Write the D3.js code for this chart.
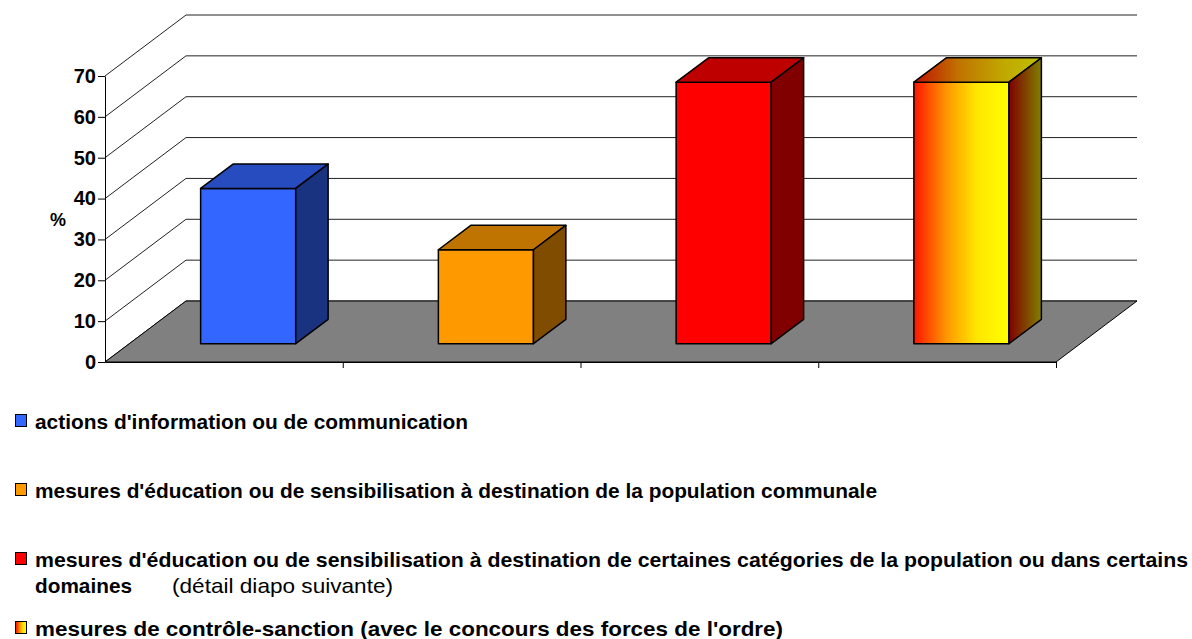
<!DOCTYPE html>
<html>
<head>
<meta charset="utf-8">
<script src="https://cdn.jsdelivr.net/npm/d3@7"></script>
<style>
    body { margin: 0; background: #fff; }
    text { font-family: Arial, "Liberation Sans", sans-serif; }
</style>
</head>
<body>
<div id="chart"></div>
<script>
// Data
const categories = [
    "actions d'information ou de communication",
    "mesures d'éducation ou de sensibilisation à destination de la population communale",
    "mesures d'éducation ou de sensibilisation à destination de certaines catégories de la population ou dans certains domaines",
    "mesures de contrôle-sanction (avec le concours des forces de l'ordre)"
];
const values = [38, 23, 64, 64];
const yTicks = [0, 10, 20, 30, 40, 50, 60, 70];
const yLabel = "%";
const legendNote = "(détail diapo suivante)";

// Canvas Size
const width = 1192, height = 639;
const plot = { left: 105, right: 1056, bottom: 362, top: 76 };
const depthX = 81, depthY = 61;      // floor depth offset
const barFront = 0.3, barBack = 0.7;  // bar depth inside the floor

const svg = d3.select("#chart")
    .append("svg")
    .attr("width", width)
    .attr("height", height);

// Define Scales
const xScale = d3.scaleBand().domain(categories).range([plot.left, plot.right])
    .paddingInner(0.6).paddingOuter(0.3);
const yScale = d3.scaleLinear().domain([0, 70]).range([plot.bottom, plot.top]);
const xEdge = d3.scaleLinear().domain([0, categories.length]).range([plot.left, plot.right]);

function project(x, v, d) {
    return [x + d * depthX, yScale(v) - d * depthY];
}

// gradients for the last bar
const defs = svg.append("defs");
function addGradient(id, stops) {
    const g = defs.append("linearGradient").attr("id", id)
        .attr("x1", 0).attr("y1", 0).attr("x2", 1).attr("y2", 0);
    stops.forEach(s => g.append("stop").attr("offset", s[0]).attr("stop-color", s[1]));
}
addGradient("gFront", [[0, "#ff1500"], [0.35, "#ff9900"], [0.65, "#ffe400"], [1, "#ffff00"]]);
addGradient("gTop", [[0, "#c01000"], [0.35, "#c07300"], [0.7, "#c0a800"], [1, "#c0c000"]]);
addGradient("gSide", [[0, "#800000"], [0.5, "#804000"], [1, "#808000"]]);
addGradient("gLegend", [[0, "#ff0000"], [0.4, "#ff9900"], [0.7, "#ffe400"], [1, "#ffff00"]]);

const faceFills = [
    { front: "#3366ff", top: "#264cbf", side: "#193380" },
    { front: "#ff9900", top: "#bf7300", side: "#804d00" },
    { front: "#ff0000", top: "#bf0000", side: "#800000" },
    { front: "url(#gFront)", top: "url(#gTop)", side: "url(#gSide)" }
];

// Back wall gridlines
svg.append("g").selectAll("line")
    .data(yTicks)
    .join("line")
    .attr("x1", d => project(plot.left, d, 1)[0])
    .attr("y1", d => project(plot.left, d, 1)[1])
    .attr("x2", d => project(plot.right, d, 1)[0])
    .attr("y2", d => project(plot.right, d, 1)[1])
    .attr("stroke", "#222")
    .attr("stroke-width", 1);

// Side wall diagonals
svg.append("g").selectAll("line")
    .data(yTicks)
    .join("line")
    .attr("x1", d => project(plot.left, d, 0)[0])
    .attr("y1", d => project(plot.left, d, 0)[1])
    .attr("x2", d => project(plot.left, d, 1)[0])
    .attr("y2", d => project(plot.left, d, 1)[1])
    .attr("stroke", "#222")
    .attr("stroke-width", 1);

// Floor
const floor = [project(plot.left, 0, 0), project(plot.right, 0, 0), project(plot.right, 0, 1), project(plot.left, 0, 1)];
svg.append("polygon")
    .attr("points", floor.map(p => p.join(",")).join(" "))
    .attr("fill", "#808080")
    .attr("stroke", "#000")
    .attr("stroke-width", 1);

// Draw Y Axis
const yAxis = svg.append("g")
    .attr("transform", `translate(${plot.left},0)`)
    .call(d3.axisLeft(yScale).tickValues(yTicks).tickSize(7).tickSizeOuter(0).tickPadding(2));
yAxis.selectAll("text")
    .attr("font-size", 20).attr("font-weight", "bold").attr("fill", "#000")
    .style("font-family", "Arial, 'Liberation Sans', sans-serif");
yAxis.selectAll("line, path").attr("stroke", "#000");

svg.append("text")
    .attr("x", 58).attr("y", 226)
    .attr("text-anchor", "middle")
    .attr("font-size", 18).attr("font-weight", "bold")
    .text(yLabel);

// Draw X Axis
const xAxis = svg.append("g")
    .attr("transform", `translate(0,${plot.bottom})`)
    .call(d3.axisBottom(xEdge).tickValues(d3.range(1, categories.length + 1)).tickSize(6).tickSizeOuter(0).tickFormat(""));
xAxis.selectAll("line, path").attr("stroke", "#000");

// Draw bars
const bars = svg.append("g").selectAll("g")
    .data(categories)
    .join("g");

bars.each(function (c, i) {
    const g = d3.select(this);
    const x0 = xScale(c), x1 = x0 + xScale.bandwidth(), v = values[i];
    const pts = arr => arr.map(p => p.join(",")).join(" ");
    g.append("polygon")
        .attr("points", pts([project(x0, 0, barFront), project(x1, 0, barFront), project(x1, v, barFront), project(x0, v, barFront)]))
        .attr("fill", faceFills[i].front);
    g.append("polygon")
        .attr("points", pts([project(x0, v, barFront), project(x1, v, barFront), project(x1, v, barBack), project(x0, v, barBack)]))
        .attr("fill", faceFills[i].top);
    g.append("polygon")
        .attr("points", pts([project(x1, 0, barFront), project(x1, 0, barBack), project(x1, v, barBack), project(x1, v, barFront)]))
        .attr("fill", faceFills[i].side);
    g.selectAll("polygon").attr("stroke", "#000").attr("stroke-width", 1.5).attr("stroke-linejoin", "round");
});

// Legend (line widths fitted to the slide)
const legendRows = [
    { lines: [[categories[0], 433]], y: 429 },
    { lines: [[categories[1], 842]], y: 498 },
    { lines: [["mesures d'éducation ou de sensibilisation à destination de certaines catégories de la population ou dans certains", 1153], ["domaines", 97]], y: 567 },
    { lines: [[categories[3], 748]], y: 636 }
];
const legendFills = ["#3366ff", "#ff9900", "#ff0000", "url(#gLegend)"];

const legend = svg.append("g").selectAll("g")
    .data(legendRows)
    .join("g");

legend.append("rect")
    .attr("x", 15.5).attr("y", d => d.y - 14.5)
    .attr("width", 11).attr("height", 12)
    .attr("fill", (d, i) => legendFills[i])
    .attr("stroke", "#000").attr("stroke-width", 1);

legend.each(function (d) {
    const g = d3.select(this);
    d.lines.forEach((t, k) => {
        g.append("text")
            .attr("x", 35).attr("y", d.y + k * 26)
            .attr("font-size", 21).attr("font-weight", "bold")
            .attr("textLength", t[1]).attr("lengthAdjust", "spacingAndGlyphs")
            .text(t[0]);
    });
});

svg.append("text")
    .attr("x", 172).attr("y", 593)
    .attr("font-size", 21)
    .attr("textLength", 221).attr("lengthAdjust", "spacingAndGlyphs")
    .text(legendNote);
</script>
</body>
</html>
